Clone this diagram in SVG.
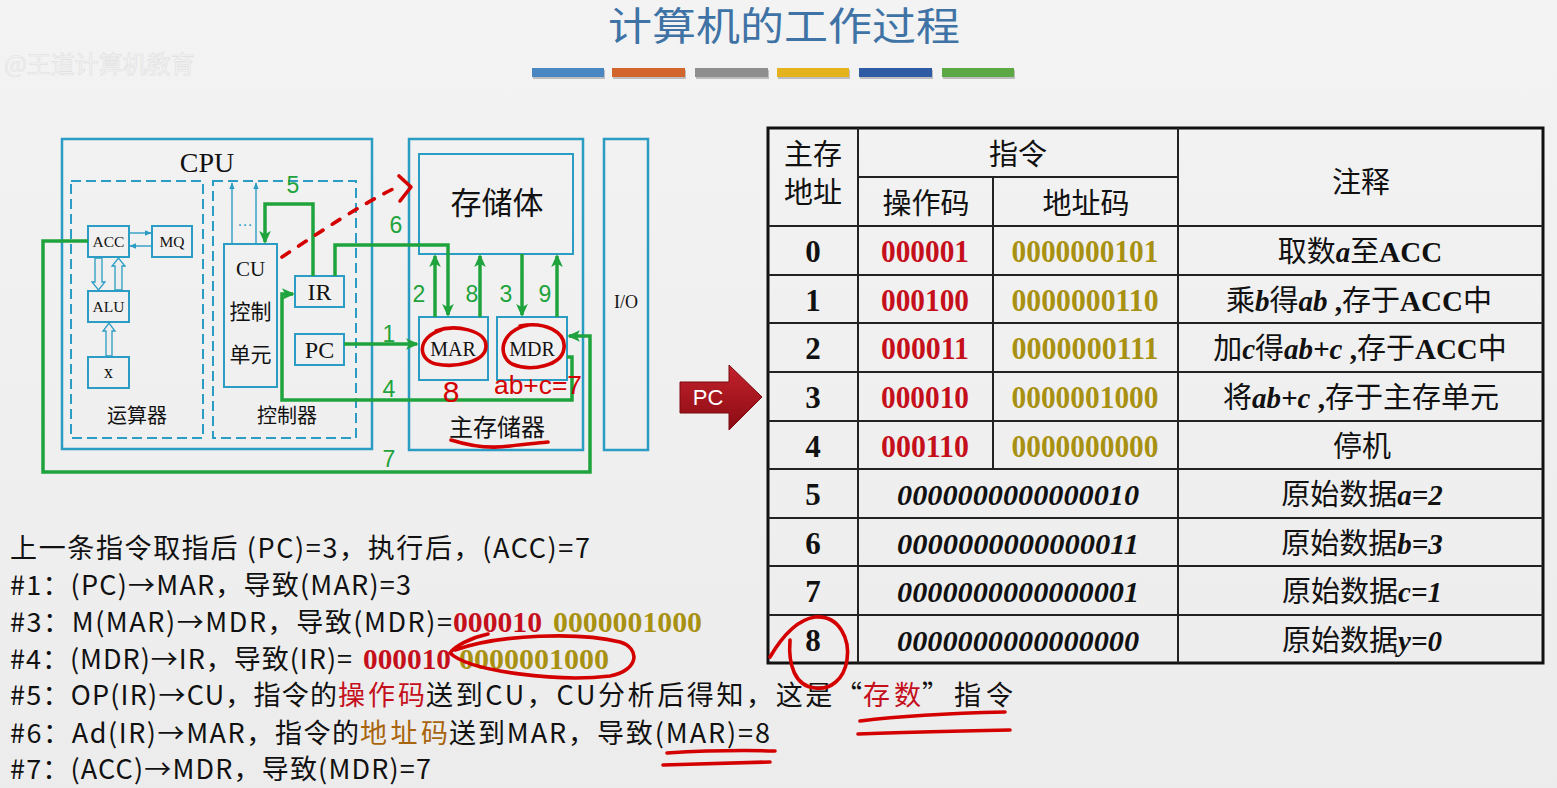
<svg xmlns="http://www.w3.org/2000/svg" width="1557" height="788" viewBox="0 0 1557 788">
<defs>
<linearGradient id="bg" x1="0" y1="0" x2="0" y2="1"><stop offset="0" stop-color="#f3f3f3"/><stop offset="1" stop-color="#ececec"/></linearGradient>
<linearGradient id="pcg" x1="0" y1="0" x2="0" y2="1"><stop offset="0" stop-color="#c4222c"/><stop offset="1" stop-color="#8a0b13"/></linearGradient>
<marker id="ag" viewBox="0 0 10 10" refX="8.5" refY="5" markerWidth="13" markerHeight="13" markerUnits="userSpaceOnUse" orient="auto"><path d="M0,0.5 L10,5 L0,9.5 L2.5,5 z" fill="#1fa33c"/></marker>
<marker id="ac" viewBox="0 0 10 10" refX="9" refY="5" markerWidth="7" markerHeight="7" markerUnits="userSpaceOnUse" orient="auto"><path d="M0,1 L10,5 L0,9 z" fill="#2b9cc4"/></marker>
<style>
.box{fill:none;stroke:#2b9cc4;stroke-width:2}
.outer{fill:none;stroke:#2b9cc4;stroke-width:2.5}
.dash{fill:none;stroke:#2b9cc4;stroke-width:2;stroke-dasharray:10 5}
.g{fill:none;stroke:#1fa33c;stroke-width:3.5}
.thin{fill:none;stroke:#2b9cc4;stroke-width:1.4}
.hollow{fill:#eeeeee;stroke:#2b9cc4;stroke-width:1.3}
.serif{font-family:'Liberation Serif','Times New Roman',serif;fill:#111}
.cjk{font-family:'Noto Sans CJK SC','Noto Sans',sans-serif;fill:#111}
.num{font-family:'Liberation Sans',Arial,sans-serif;fill:#1fa33c;font-size:23px;text-anchor:middle}
.hand{fill:none;stroke:#d40000;stroke-width:3.6;stroke-linecap:round;stroke-linejoin:round}
.handtxt{font-family:'Liberation Sans',Arial,sans-serif;fill:#d40000}
.tl{stroke:#222;stroke-width:2}
.to{fill:none;stroke:#111;stroke-width:3}
.dig{font-family:'Liberation Serif','Times New Roman',serif;font-weight:bold;font-size:31px;text-anchor:middle}
.dit{font-family:'Liberation Serif','Times New Roman',serif;font-weight:bold;font-style:italic;font-size:30px;text-anchor:middle;fill:#111}
.note{font-family:'Noto Sans CJK SC',sans-serif;font-size:29px;text-anchor:middle;fill:#111}
.bi{font-family:'Liberation Serif',serif;font-weight:bold;font-style:italic}
.b{font-family:'Liberation Serif',serif;font-weight:bold}
.line{font-family:'Noto Sans CJK SC',sans-serif;font-size:27px;fill:#111}
.bdig{font-family:'Liberation Serif',serif;font-weight:bold;font-size:30px}
.red{fill:#c5101c}
.gold{fill:#a89112}
.brn{fill:#a8650e}
</style>
</defs>

<rect width="1557" height="788" fill="url(#bg)"/>

<g id="watermark">
<text x="4" y="73" font-family="'Noto Sans CJK SC',sans-serif" font-size="24" fill="#f5f5f5" stroke="#dedede" stroke-width="0.6">@王道计算机教育</text>
</g>

<g id="title">
<text x="784" y="40" font-family="'Noto Sans CJK SC',sans-serif" font-size="39" fill="#3f73a6" text-anchor="middle" textLength="352" lengthAdjust="spacingAndGlyphs">计算机的工作过程</text>
<rect x="533" y="70" width="72" height="9" fill="#bdbdbd"/>
<rect x="532" y="68" width="72" height="9" fill="#4a87c2"/>
<rect x="613" y="70" width="73" height="9" fill="#bdbdbd"/>
<rect x="612" y="68" width="73" height="9" fill="#d2652c"/>
<rect x="696" y="70" width="73" height="9" fill="#bdbdbd"/>
<rect x="695" y="68" width="73" height="9" fill="#8e8e8e"/>
<rect x="778" y="70" width="72" height="9" fill="#bdbdbd"/>
<rect x="777" y="68" width="72" height="9" fill="#e3b21c"/>
<rect x="860" y="70" width="73" height="9" fill="#bdbdbd"/>
<rect x="859" y="68" width="73" height="9" fill="#2f5ba4"/>
<rect x="943" y="70" width="72" height="9" fill="#bdbdbd"/>
<rect x="942" y="68" width="72" height="9" fill="#5ca845"/>
</g>

<g id="cpu">
<rect class="outer" x="62" y="139" width="310" height="310"/>
<text class="serif" x="207" y="172" font-size="28" text-anchor="middle">CPU</text>
</g>
<g id="alu-unit">
<rect class="dash" x="71" y="181" width="132" height="257"/>
<text class="cjk" x="137" y="423" font-size="20" text-anchor="middle">运算器</text>
</g>
<g id="acc"><rect class="box" x="88" y="226" width="41" height="31"/><text class="serif" x="108.5" y="247" font-size="15.5" text-anchor="middle">ACC</text></g>
<g id="mq"><rect class="box" x="152" y="226" width="40" height="31"/><text class="serif" x="172" y="247" font-size="15.5" text-anchor="middle">MQ</text></g>
<g id="alu"><rect class="box" x="88" y="291" width="41" height="31"/><text class="serif" x="108.5" y="312" font-size="15.5" text-anchor="middle">ALU</text></g>
<g id="x"><rect class="box" x="88" y="357" width="41" height="31"/><text class="serif" x="108.5" y="378" font-size="18" text-anchor="middle">x</text></g>

<g id="ctrl-unit">
<rect class="dash" x="213" y="181" width="143" height="257"/>
<text class="cjk" x="287" y="423" font-size="20" text-anchor="middle">控制器</text>
</g>
<g id="cu">
<rect class="box" x="224" y="244" width="53" height="143"/>
<text class="serif" x="250.5" y="276" font-size="21" text-anchor="middle">CU</text>
<text class="cjk" x="250.5" y="319" font-size="21" text-anchor="middle">控制</text>
<text class="cjk" x="250.5" y="362" font-size="21" text-anchor="middle">单元</text>
</g>
<g id="ir"><rect class="box" x="295" y="276" width="49" height="31"/><text class="serif" x="319.5" y="300" font-size="24" text-anchor="middle">IR</text></g>
<g id="pc"><rect class="box" x="295" y="334" width="49" height="31"/><text class="serif" x="319.5" y="358" font-size="24" text-anchor="middle">PC</text></g>

<g id="main-memory">
<rect class="outer" x="409" y="139" width="174" height="311"/>
<text class="cjk" x="497" y="436" font-size="24" text-anchor="middle">主存储器</text>
</g>
<g id="storage"><rect class="box" x="419" y="154" width="154" height="100"/><text class="cjk" x="497" y="214" font-size="31" text-anchor="middle">存储体</text></g>
<g id="mar"><rect class="box" x="419" y="317" width="69" height="63"/><text class="serif" x="453" y="356" font-size="20" text-anchor="middle">MAR</text></g>
<g id="mdr"><rect class="box" x="497" y="317" width="70" height="63"/><text class="serif" x="532" y="356" font-size="20" text-anchor="middle">MDR</text></g>
<g id="io"><rect class="outer" x="604" y="139" width="44" height="311"/><text class="serif" x="626" y="308" font-size="18" text-anchor="middle">I/O</text></g>

<g id="table">
<rect class="to" x="768" y="128" width="775" height="535"/>
<line class="tl" x1="858" y1="128" x2="858" y2="663"/>
<line class="tl" x1="1178" y1="128" x2="1178" y2="663"/>
<line class="tl" x1="993" y1="177" x2="993" y2="469"/>
<line class="tl" x1="858" y1="177" x2="1178" y2="177"/>
<line class="tl" x1="768" y1="226" x2="1543" y2="226"/>
<line class="tl" x1="768" y1="275" x2="1543" y2="275"/>
<line class="tl" x1="768" y1="323" x2="1543" y2="323"/>
<line class="tl" x1="768" y1="372" x2="1543" y2="372"/>
<line class="tl" x1="768" y1="421" x2="1543" y2="421"/>
<line class="tl" x1="768" y1="469" x2="1543" y2="469"/>
<line class="tl" x1="768" y1="518" x2="1543" y2="518"/>
<line class="tl" x1="768" y1="566" x2="1543" y2="566"/>
<line class="tl" x1="768" y1="615" x2="1543" y2="615"/>
<text class="note" x="813" y="165" font-size="27">主存</text>
<text class="note" x="813" y="203" font-size="27">地址</text>
<text class="note" x="1018" y="165">指令</text>
<text class="note" x="926" y="214">操作码</text>
<text class="note" x="1086" y="214">地址码</text>
<text class="note" x="1361" y="193">注释</text>

<text class="dig" x="813" y="262" fill="#111">0</text>
<text class="dig red" x="925" y="262" textLength="88" lengthAdjust="spacingAndGlyphs">000001</text>
<text class="dig gold" x="1085" y="262" textLength="147" lengthAdjust="spacingAndGlyphs">0000000101</text>
<text class="note" x="1360" y="262">取数<tspan class="bi">a</tspan>至<tspan class="b">ACC</tspan></text>

<text class="dig" x="813" y="310.5" fill="#111">1</text>
<text class="dig red" x="925" y="310.5" textLength="88" lengthAdjust="spacingAndGlyphs">000100</text>
<text class="dig gold" x="1085" y="310.5" textLength="147" lengthAdjust="spacingAndGlyphs">0000000110</text>
<text class="note" x="1359" y="310.5">乘<tspan class="bi">b</tspan>得<tspan class="bi">ab</tspan><tspan class="b"> ,</tspan>存于<tspan class="b">ACC</tspan>中</text>

<text class="dig" x="813" y="359" fill="#111">2</text>
<text class="dig red" x="925" y="359" textLength="88" lengthAdjust="spacingAndGlyphs">000011</text>
<text class="dig gold" x="1085" y="359" textLength="147" lengthAdjust="spacingAndGlyphs">0000000111</text>
<text class="note" x="1360" y="359">加<tspan class="bi">c</tspan>得<tspan class="bi">ab+c</tspan><tspan class="b">  ,</tspan>存于<tspan class="b">ACC</tspan>中</text>

<text class="dig" x="813" y="408" fill="#111">3</text>
<text class="dig red" x="925" y="408" textLength="88" lengthAdjust="spacingAndGlyphs">000010</text>
<text class="dig gold" x="1085" y="408" textLength="147" lengthAdjust="spacingAndGlyphs">0000001000</text>
<text class="note" x="1361" y="408">将<tspan class="bi">ab+c</tspan><tspan class="b"> ,</tspan>存于主存单元</text>

<text class="dig" x="813" y="456.5" fill="#111">4</text>
<text class="dig red" x="925" y="456.5" textLength="88" lengthAdjust="spacingAndGlyphs">000110</text>
<text class="dig gold" x="1085" y="456.5" textLength="147" lengthAdjust="spacingAndGlyphs">0000000000</text>
<text class="note" x="1362" y="456.5">停机</text>

<text class="dig" x="813" y="505" fill="#111">5</text>
<text class="dit" x="1018" y="505" textLength="242" lengthAdjust="spacingAndGlyphs">0000000000000010</text>
<text class="note" x="1362" y="505">原始数据<tspan class="bi">a=2</tspan></text>

<text class="dig" x="813" y="553.5" fill="#111">6</text>
<text class="dit" x="1018" y="553.5" textLength="242" lengthAdjust="spacingAndGlyphs">0000000000000011</text>
<text class="note" x="1362" y="553.5">原始数据<tspan class="bi">b=3</tspan></text>

<text class="dig" x="813" y="602" fill="#111">7</text>
<text class="dit" x="1018" y="602" textLength="242" lengthAdjust="spacingAndGlyphs">0000000000000001</text>
<text class="note" x="1362" y="602">原始数据<tspan class="bi">c=1</tspan></text>

<text class="dig" x="813" y="650.5" fill="#111">8</text>
<text class="dit" x="1018" y="650.5" textLength="242" lengthAdjust="spacingAndGlyphs">0000000000000000</text>
<text class="note" x="1362" y="650.5">原始数据<tspan class="bi">y=0</tspan></text>
</g>

<g id="pc-pointer">
<polygon points="680,382 729,382 729,365 762,397 729,430 729,413 680,413" fill="url(#pcg)" stroke="#7a0a10" stroke-width="1"/>
<text x="708" y="405" font-family="'Liberation Sans',Arial,sans-serif" font-size="22" fill="#ffffff" text-anchor="middle">PC</text>
</g>

<g id="connectors">
<line class="thin" x1="129" y1="233" x2="151" y2="233" marker-end="url(#ac)"/>
<line class="thin" x1="152" y1="246" x2="130" y2="246" marker-end="url(#ac)"/>
<polygon class="hollow" points="95,258 102,258 102,282 105,282 98.5,290 92,282 95,282"/>
<polygon class="hollow" points="115,290 122,290 122,266 125,266 118.5,258 112,266 115,266"/>
<polygon class="hollow" points="106,356 112,356 112,331 115,331 109,323 103,331 106,331"/>
<line class="thin" x1="232" y1="244" x2="232" y2="183" marker-end="url(#ac)"/>
<line class="thin" x1="256" y1="244" x2="256" y2="183" marker-end="url(#ac)"/>
<text x="245" y="226" font-family="'Liberation Sans',sans-serif" font-size="16" fill="#2b9cc4" text-anchor="middle">…</text>
<polyline class="g" points="344,344 417,344" marker-end="url(#ag)"/>
<polyline class="g" points="435,317 435,256" marker-end="url(#ag)"/>
<polyline class="g" points="522,254 522,315" marker-end="url(#ag)"/>
<polyline class="g" points="567,357 572,357 572,400 282,400 282,294 293,294" marker-end="url(#ag)"/>
<polyline class="g" points="313,276 313,204 265,204 265,242" marker-end="url(#ag)"/>
<polyline class="g" points="335,276 335,245 448,245 448,315" marker-end="url(#ag)"/>
<polyline class="g" points="88,241 43,241 43,472 590,472 590,336 569,336" marker-end="url(#ag)"/>
<polyline class="g" points="480,317 480,256" marker-end="url(#ag)"/>
<polyline class="g" points="557,317 557,256" marker-end="url(#ag)"/>
<text class="num" x="389" y="342">1</text>
<text class="num" x="419" y="302">2</text>
<text class="num" x="506" y="302">3</text>
<text class="num" x="389" y="397">4</text>
<text class="num" x="293" y="193">5</text>
<text class="num" x="396" y="233">6</text>
<text class="num" x="389" y="467">7</text>
<text class="num" x="472" y="302">8</text>
<text class="num" x="545" y="302">9</text>
</g>

<g id="steps">
<text class="line" x="10" y="558" textLength="580" lengthAdjust="spacing">上一条指令取指后 (PC)=3，执行后，(ACC)=7</text>
<text class="line" x="10" y="595" textLength="401" lengthAdjust="spacing">#1：(PC)→MAR，导致(MAR)=3</text>
<text class="line" x="10" y="632" textLength="442" lengthAdjust="spacing">#3：M(MAR)→MDR，导致(MDR)=</text>
<text class="bdig red" x="453" y="632" textLength="89" lengthAdjust="spacingAndGlyphs">000010</text>
<text class="bdig gold" x="553" y="632" textLength="149" lengthAdjust="spacingAndGlyphs">0000001000</text>
<text class="line" x="10" y="669" textLength="342" lengthAdjust="spacing">#4：(MDR)→IR，导致(IR)=</text>
<text class="bdig red" x="363" y="669" textLength="88" lengthAdjust="spacingAndGlyphs">000010</text>
<text class="bdig gold" x="459" y="669" textLength="150" lengthAdjust="spacingAndGlyphs">0000001000</text>
<text class="line" x="10" y="705" textLength="327" lengthAdjust="spacing">#5：OP(IR)→CU，指令的</text>
<text class="line red" x="338" y="705" textLength="87" lengthAdjust="spacing">操作码</text>
<text class="line" x="426" y="705" textLength="436" lengthAdjust="spacing">送到CU，CU分析后得知，这是“</text>
<text class="line red" x="863" y="705" textLength="58" lengthAdjust="spacing">存数</text>
<text class="line" x="922" y="705" textLength="91" lengthAdjust="spacing">”指令</text>
<text class="line" x="10" y="743" textLength="349" lengthAdjust="spacing">#6：Ad(IR)→MAR，指令的</text>
<text class="line brn" x="360" y="743" textLength="88" lengthAdjust="spacing">地址码</text>
<text class="line" x="449" y="743" textLength="321" lengthAdjust="spacing">送到MAR，导致(MAR)=8</text>
<text class="line" x="10" y="779" textLength="421" lengthAdjust="spacing">#7：(ACC)→MDR，导致(MDR)=7</text>
</g>

<g id="annotations">
<path class="hand" d="M436,331 C455,324 486,330 486,346 C486,362 456,368 436,364 C418,360 416,338 441,330"/>
<path class="hand" d="M520,326 C545,321 566,332 564,348 C562,366 531,372 512,364 C497,356 500,330 529,325"/>
<text class="handtxt" x="451" y="402" font-size="30" text-anchor="middle">8</text>
<text class="handtxt" x="494" y="394" font-size="26" textLength="88" lengthAdjust="spacingAndGlyphs">ab+c=7</text>
<path class="hand" d="M451,440 C470,446 490,449 510,446 C525,444 540,443 548,442"/>
<path class="hand" d="M282,257 C320,232 360,205 397,187" stroke-dasharray="9 11"/>
<path class="hand" d="M399,176 L411,187 L400,201" stroke-width="3.8"/>
<path class="hand" d="M488,634 C470,638 455,646 450,653 C470,672 560,682 610,676 C640,670 640,648 620,642 C580,632 500,634 455,650"/>
<path class="hand" d="M770,657 C780,640 795,620 815,617 C840,615 850,640 847,660 C844,680 830,690 815,688 C795,686 788,665 790,640"/>
<path class="hand" d="M860,721 C900,716 960,713 1005,712" stroke-width="4.2"/>
<path class="hand" d="M858,734 C910,732 960,731 1010,730" stroke-width="4.2"/>
<path class="hand" d="M667,753 C700,751 740,750 775,751" stroke-width="4.2"/>
<path class="hand" d="M663,765 C700,764 740,763 770,762" stroke-width="4.2"/>
</g>
</svg>
